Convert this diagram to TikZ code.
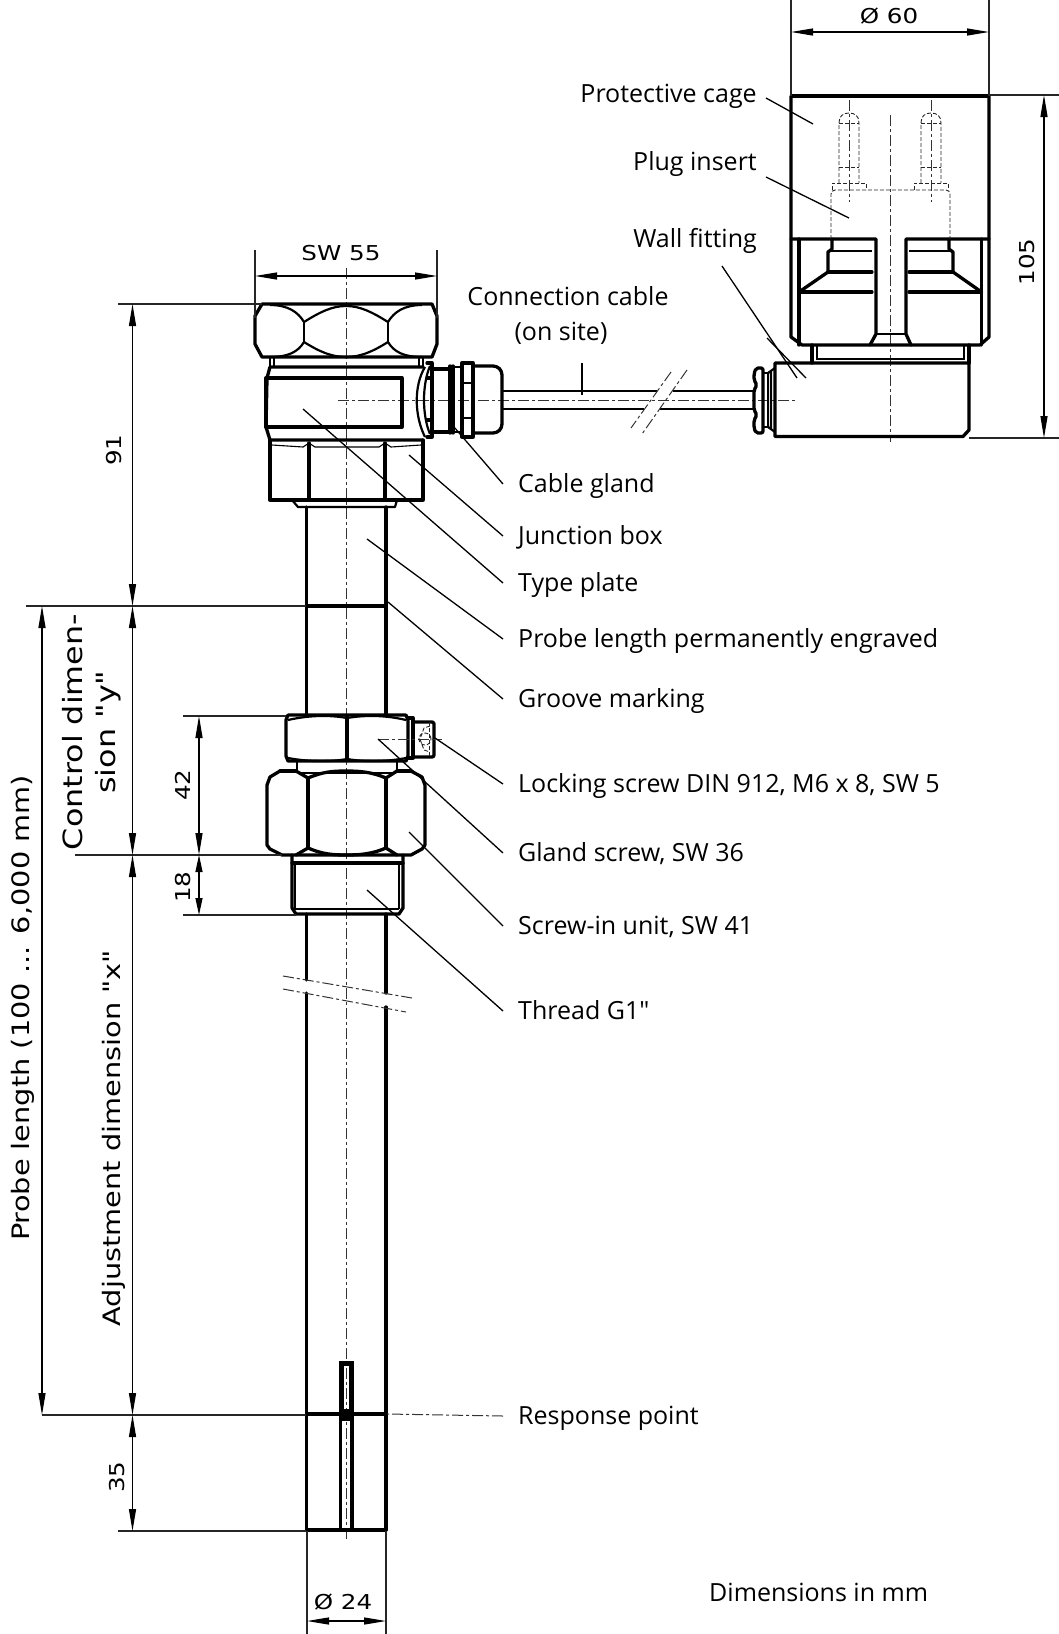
\documentclass[tikz,border=0pt]{standalone}
\usepackage{fontspec}
\setmainfont[Ligatures=TeXOff]{Open Sans}
\newfontfamily\dimfont[FakeStretch=1.2]{DejaVu Sans}
\usetikzlibrary{arrows.meta,positioning,calc}

\begin{document}
\begin{tikzpicture}
  [x=1pt,y=-1pt,
  partlabel/.style={
    anchor=west,
    inner xsep=15pt,
    inner ysep=0pt,
    text height=20pt,
    text depth=4pt,
    font=\fontsize{25}{28}\selectfont
    },
  sidelabel/.style={
    partlabel,
    anchor=east,
    inner xsep=0pt
    },
  dimtext/.style={
    inner sep=0pt,
    font=\dimfont\fontsize{20.5}{22}\selectfont
    },
  bigdimtext/.style={
    dimtext,
    rotate=90,
    align=center,
    font=\dimfont\fontsize{24}{32}\selectfont
    },
  outline/.style={line width=3.3pt,line join=round,line cap=round},
  facet/.style={line width=2.2pt,line join=round},
  cableline/.style={line width=1.7pt},
  fineline/.style={line width=1.1pt},
  leader/.style={line width=1.3pt},
  extline/.style={line width=1.2pt,black!85},
  dimarrow/.style={line width=1.2pt,{Triangle[length=22pt,width=7pt]}-{Triangle[length=22pt,width=7pt]}},
  shortarrow/.style={line width=1.2pt,{Triangle[length=17pt,width=7pt]}-{Triangle[length=17pt,width=7pt]}},
  axisline/.style={line width=1pt,black!80,dash pattern=on 11pt off 3pt on 3pt off 3pt},
  hiddenline/.style={line width=.9pt,black!85,dash pattern=on 4pt off 2pt}
  ]
  \useasboundingbox (0,0) rectangle (1059,1634);

  % axes
  \draw[axisline] (346.5,268) -- (346.5,1541);
  \draw[axisline] (338,400) -- (797,400);
  \draw[axisline] (890.5,115) -- (890.5,442);

  % hex head
  \draw[outline] (262,304) -- (432,304) -- (437,316) -- (437,344) -- (432,357) -- (262,357) -- (255,344) -- (255,316) -- cycle;
  \draw[facet] (304,322) -- (304,342) (388,322) -- (388,342);
  \draw[facet] (304,322) .. controls (320,312) and (332,306) .. (346,306) .. controls (360,306) and (372,312) .. (388,322);
  \draw[facet] (304,342) .. controls (320,352) and (332,357) .. (346,357) .. controls (360,357) and (372,352) .. (388,342);
  \draw[facet] (304,322) .. controls (298,312) and (288,305) .. (270,305);
  \draw[facet] (304,342) .. controls (298,352) and (288,357) .. (270,357);
  \draw[facet] (388,322) .. controls (394,312) and (404,305) .. (422,305);
  \draw[facet] (388,342) .. controls (394,352) and (404,357) .. (422,357);

  % junction box
  \draw[facet] (270,358) -- (270,367) (274,358) -- (274,367) (419,358) -- (419,367) (423,358) -- (423,367);
  \draw[outline] (423,367) -- (270,367) -- (267,378) -- (266,427) -- (270,440) -- (423,440);
  \draw[outline] (266,378) rectangle (402,427);
  \draw[facet] (425,367) .. controls (414,385) and (414,415) .. (425,437);
  \draw[facet] (430,366) .. controls (422,385) and (422,415) .. (430,434);
  \draw[outline] (427,363) -- (432,363) -- (432,437) -- (427,437) (427,378) -- (432,378) (427,420) -- (432,420);
  \draw[outline] (432,369) -- (450,369) (432,432) -- (450,432);
  \draw[outline] (450,366) -- (450,433) (453,366) -- (453,433);
  \draw[facet] (453,367) -- (462,367) (453,432) -- (462,432);
  \draw[outline] (462,363) rectangle (473,437);
  \draw[facet] (462,383) -- (473,383) (462,418) -- (473,418);
  \draw[outline,rounded corners=9pt] (473,366) -- (502,366) -- (502,433) -- (473,433);

  % lower hex of the box
  \draw[outline] (270,440) -- (270,500) -- (423,500) -- (423,440);
  \draw[outline] (309,443) -- (309,500) (385,443) -- (385,500);
  \draw[fineline] (272,445) -- (303,447) -- (309,443) -- (315,447) -- (379,447) -- (385,443) -- (391,447) -- (421,445);
  \draw[facet] (292,500) -- (298,507) -- (395,507) -- (397,500);

  % tube
  \draw[outline] (306.5,507) -- (306.5,715) (386,507) -- (386,715);
  \draw[outline] (306.5,914) -- (306.5,980) (386,914) -- (386,993);
  \draw[outline] (306.5,993) -- (306.5,1530) (386,1007) -- (386,1530);
  \draw[line width=4.2pt] (306.5,606) -- (386,606);
  \draw[line width=4.2pt] (306.5,1414) -- (386,1414);
  \draw[outline] (306.5,1530) -- (386,1530);

  % slot at the response point
  \draw[line width=5pt] (341,1363) -- (341,1416) (351,1416) -- (351,1363) (338.5,1363) -- (353.5,1363);
  \fill (338.5,1409) rectangle (353.5,1421);
  \draw[line width=3.8pt] (340.5,1418) -- (340.5,1530) (352,1418) -- (352,1530);

  % gland screw
  \draw[outline] (288,715) -- (406,715) (288,715) -- (286,720) -- (286,756) -- (288,761) -- (406,761) -- (408,756) -- (408,720) -- (406,715);
  \draw[outline] (347,716) -- (347,760);
  \draw[facet] (288,720) .. controls (310,715) and (330,715) .. (347,718) .. controls (365,715) and (385,715) .. (406,720);
  \draw[facet] (288,758) .. controls (310,762) and (330,762) .. (347,759) .. controls (365,762) and (385,762) .. (406,758);
  \draw[outline] (408,718) -- (413,718) -- (413,758) -- (408,758);
  \draw[outline,rounded corners=2pt] (413,722) -- (434,722) -- (434,757) -- (413,757);
  \draw[axisline] (378,739) -- (442,739);
  \draw[hiddenline] (430,726) -- (424,728) -- (420,739) -- (424,750) -- (430,752);
  \draw[hiddenline] (429,722) -- (429,757);
  \draw[hiddenline] (425,739) circle[radius=6pt];

  % screw-in unit
  \draw[facet] (297,761) -- (297,773) (397,761) -- (397,773);
  \draw[fineline] (300,773) -- (394,773);
  \draw[outline] (280,771) -- (270,777) -- (267,785) -- (267,845) -- (270,849) -- (282,855) -- (411,855) -- (422,849) -- (425,845) -- (425,785) -- (422,777) -- (411,771);
  \draw[outline] (280,771) -- (296,771) (397,771) -- (411,771);
  \draw[outline] (308,778) -- (308,848) (386,778) -- (386,848);
  \draw[outline] (296,771) -- (308,778) .. controls (322,772) and (332,771) .. (346,771) .. controls (360,771) and (372,772) .. (386,778) -- (397,771);
  \draw[outline] (296,855) -- (308,848) .. controls (322,854) and (332,855) .. (346,855) .. controls (360,855) and (372,854) .. (386,848) -- (397,855);
  \draw[outline] (292,855) -- (292,908) -- (296,914) -- (399,914) -- (403,908) -- (403,855);
  \draw[outline] (292,863) -- (403,863);
  \draw[fineline] (295,863) -- (295,909) (399,863) -- (399,909) (295,909) -- (399,909);

  % breaks
  \draw[axisline] (283,976) -- (412,998);
  \draw[axisline] (283,989) -- (406,1012);

  % cable
  \draw[cableline] (503,391) -- (657,391) (673,391) -- (753,391);
  \draw[cableline] (503,409) -- (644,409) (660,409) -- (753,409);
  \draw[axisline] (671,372) -- (631,428);
  \draw[axisline] (687,370) -- (642,434);

  % wall fitting and box
  \draw[outline,rounded corners=2pt] (763,368) -- (756,368) -- (754,374) -- (754,380) -- (757,385) -- (754,390) -- (754,410) -- (757,415) -- (754,420) -- (754,428) -- (756,433) -- (763,433) -- cycle;
  \draw[facet] (763,373) -- (768,373) -- (768,427) -- (763,427);
  \draw[facet] (768,373) -- (775,368) (768,427) -- (775,432) (771,371) -- (771,429);
  \draw[outline] (775,363) -- (969,363) -- (969,430) -- (963,436.5) -- (775,436.5) -- cycle;

  % cage
  \draw[line width=4.5pt] (791,96) -- (989,96);
  \draw[outline] (791,96) -- (791,337) -- (802,345) -- (980,345) -- (989,337) -- (989,96);
  \draw[outline] (791,239) -- (876,239) -- (876,334) -- (870,345);
  \draw[outline] (989,239) -- (906,239) -- (906,334) -- (911,345);
  \draw[outline] (799,239) -- (799,345) (981.5,239) -- (981.5,345);
  \draw[facet] (876,334) -- (906,334);
  \draw[outline] (832,239) -- (832,249) -- (828,252) -- (828,272) -- (799,292);
  \draw[outline] (949,239) -- (949,249) -- (953,252) -- (953,272) -- (981.5,292);
  \draw[facet] (830,251) -- (872,251) (909,251) -- (951,251);
  \draw[outline] (828,272) -- (872,272) (909,272) -- (953,272);
  \draw[outline] (799,292) -- (872,292) (909,292) -- (981.5,292);
  \draw[outline] (812,345) -- (812,363) (969,345) -- (969,363);
  \draw[fineline] (817,345) -- (817,359) -- (964,359) -- (964,345);

  % plug insert (hidden)
  \draw[hiddenline] (839,183) -- (839,123) .. controls (839,116) and (843,113) .. (849,113) .. controls (855,113) and (859,116) .. (859,123) -- (859,183);
  \draw[hiddenline] (839,123) -- (859,123) (839,167) -- (859,167);
  \draw[hiddenline] (832,190) -- (832,183) -- (866,183) -- (866,190);
  \draw[hiddenline] (921,183) -- (921,123) .. controls (921,116) and (925,113) .. (931,113) .. controls (937,113) and (941,116) .. (941,123) -- (941,183);
  \draw[hiddenline] (921,123) -- (941,123) (921,167) -- (941,167);
  \draw[hiddenline] (914,190) -- (914,183) -- (948,183) -- (948,190);
  \draw[hiddenline,rounded corners=4pt] (831,239) -- (831,190) -- (950,190) -- (950,239);
  \draw[axisline] (849,100) -- (849,202);
  \draw[axisline] (931,100) -- (931,202);

  % labels on the right of the probe
  \node[partlabel] at (503,484) (cablegland) {Cable gland};
  \node[partlabel,below=52pt of cablegland.west,anchor=west] (junctionbox) {Junction box};
  \node[partlabel,below=47pt of junctionbox.west,anchor=west] (typeplate) {Type plate};
  \node[partlabel,below=56pt of typeplate.west,anchor=west] (engraved) {Probe length permanently engraved};
  \node[partlabel,below=60pt of engraved.west,anchor=west] (groovemarking) {Groove marking};
  \node[partlabel,below=85pt of groovemarking.west,anchor=west] (lockingscrew) {Locking screw DIN 912, M6 x 8, SW 5};
  \node[partlabel,below=69pt of lockingscrew.west,anchor=west] (glandscrew) {Gland screw, SW 36};
  \node[partlabel,below=73pt of glandscrew.west,anchor=west] (screwin) {Screw-in unit, SW 41};
  \node[partlabel,below=85pt of screwin.west,anchor=west] (threadgone) {Thread G1"};
  \node[partlabel] at (503,1416) (responsepoint) {Response point};
  \node[partlabel,inner xsep=0pt] at (709,1593) (dimensionsmm) {Dimensions in mm};

  % labels of the cage side
  \node[sidelabel] at (757,94) (protectivecage) {Protective cage};
  \node[sidelabel,below=68pt of protectivecage.east,anchor=east] (pluginsert) {Plug insert};
  \node[sidelabel,below=77pt of pluginsert.east,anchor=east] (wallfitting) {Wall fitting};
  \node[partlabel,inner xsep=0pt,anchor=center] at (568,297) (connectioncable) {Connection cable};
  \node[partlabel,inner xsep=0pt,anchor=center] at (561,332) (onsite) {(on site)};

  \coordinate (cableglandend) at (454,427);
  \coordinate (junctionboxend) at (409,455);
  \coordinate (typeplateend) at (303,409);
  \coordinate (engravedend) at (367,539);
  \coordinate (grooveend) at (388,602);
  \coordinate (lockingend) at (435,738);
  \coordinate (glandscrewend) at (378,739);
  \coordinate (screwinend) at (409,832);
  \coordinate (threadend) at (367,890);
  \coordinate (cageend) at (813,124);
  \coordinate (plugend) at (849,218);
  \coordinate (wallend) at (797,378);
  \coordinate (cableend) at (582,395);
  \coordinate (extrastart) at (767,338);
  \coordinate (extraend) at (806,378);
  \coordinate (responseend) at (387,1414);

  \draw[leader] (cablegland.west) -- (cableglandend);
  \draw[leader] (junctionbox.west) -- (junctionboxend);
  \draw[leader] (typeplate.west) -- (typeplateend);
  \draw[leader] (engraved.west) -- (engravedend);
  \draw[leader] (groovemarking.west) -- (grooveend);
  \draw[leader] (lockingscrew.west) -- (lockingend);
  \draw[leader] (glandscrew.west) -- (glandscrewend);
  \draw[leader] (screwin.west) -- (screwinend);
  \draw[leader] (threadgone.west) -- (threadend);
  \draw[axisline] (responsepoint.west) -- (responseend);
  \draw[leader] ($(protectivecage.east)+(9,4)$) -- (cageend);
  \draw[leader] ($(pluginsert.east)+(9,15)$) -- (plugend);
  \draw[leader] ($(wallfitting.east)+(-35,27)$) -- (wallend);
  \draw[leader] ($(onsite.center)+(21,31)$) -- (cableend);
  \draw[leader] (extrastart) -- (extraend);

  % extension lines
  \draw[extline] (791,0) -- (791,96) (989,0) -- (989,96);
  \draw[extline] (989,95) -- (1059,95) (969,438) -- (1059,438);
  \draw[extline] (255,250) -- (255,318) (437,250) -- (437,318);
  \draw[extline] (118,304) -- (262,304);
  \draw[extline] (26,606) -- (306,606);
  \draw[extline] (183,716) -- (286,716);
  \draw[extline] (75,855) -- (282,855);
  \draw[extline] (183,915) -- (296,915);
  \draw[extline] (42,1415) -- (306,1415);
  \draw[extline] (118,1531) -- (306,1531);
  \draw[extline] (307,1531) -- (307,1634) (386,1531) -- (386,1634);

  % dimensions
  \coordinate (dsixtyl) at (791,32);
  \coordinate (dsixtyr) at (989,32);
  \coordinate (hfivetop) at (1044,95);
  \coordinate (hfivebot) at (1044,438);
  \coordinate (swl) at (255,276);
  \coordinate (swr) at (437,276);
  \coordinate (nineonetop) at (132.5,304);
  \coordinate (nineonebot) at (132.5,606);
  \coordinate (ctrlbot) at (132.5,855);
  \coordinate (adjbot) at (132.5,1415);
  \coordinate (fivebot) at (132.5,1531);
  \coordinate (probetop) at (42,606);
  \coordinate (probebot) at (42,1415);
  \coordinate (fortytop) at (199,716);
  \coordinate (fortybot) at (199,855);
  \coordinate (eighteenbot) at (199,915);
  \coordinate (dtfl) at (307,1621);
  \coordinate (dtfr) at (386,1621);

  \draw[dimarrow] (dsixtyl) -- (dsixtyr);
  \draw[dimarrow] (hfivetop) -- (hfivebot);
  \draw[dimarrow] (swl) -- (swr);
  \draw[dimarrow] (nineonetop) -- (nineonebot);
  \draw[dimarrow] (nineonebot) -- (ctrlbot);
  \draw[dimarrow] (ctrlbot) -- (adjbot);
  \draw[dimarrow] (adjbot) -- (fivebot);
  \draw[dimarrow] (probetop) -- (probebot);
  \draw[dimarrow] (fortytop) -- (fortybot);
  \draw[shortarrow] (fortybot) -- (eighteenbot);
  \draw[dimarrow] (dtfl) -- (dtfr);

  \node[dimtext] at (889,16) (dsixtytext) {Ø 60};
  \node[dimtext,rotate=90] at (1027,262) (hfivetext) {105};
  \node[dimtext] at (341,253) (swtext) {SW 55};
  \node[dimtext,rotate=90] at (114,450) (nineonetext) {91};
  \node[dimtext,rotate=90] at (183,785) (fortytext) {42};
  \node[dimtext,rotate=90] at (183,887) (eighteentext) {18};
  \node[dimtext,rotate=90] at (117,1477) (fivetext) {35};
  \node[dimtext] at (343,1602) (dtftext) {Ø 24};
  \node[bigdimtext,font=\dimfont\fontsize{26.5}{33}\selectfont] at (92,732) (controltext) {Control dimen-\\sion "y"};
  \node[bigdimtext] at (114,1138) (adjusttext) {Adjustment dimension "x"};
  \node[bigdimtext] at (23,1008) (probetext) {Probe length (100 ... 6,000 mm)};
\end{tikzpicture}
\end{document}
